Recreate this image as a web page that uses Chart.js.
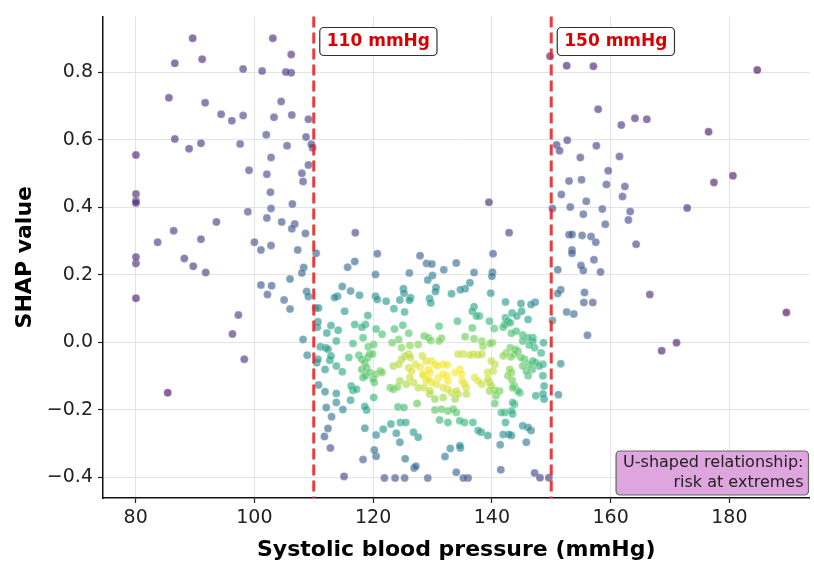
<!DOCTYPE html>
<html>
<head>
<meta charset="utf-8">
<script src="https://cdn.jsdelivr.net/npm/chart.js@4.4.1/dist/chart.umd.min.js"></script>
<style>
  html, body { margin: 0; padding: 0; background: #fff; }
  #wrap { width: 814px; height: 563px; }
</style>
</head>
<body>
<div id="wrap"><canvas id="chart" width="814" height="563"></canvas></div>
<script>
// Systolic blood pressure (mmHg) and SHAP value per patient
const sbp = [
  89.6, 103.1, 106.2, 86.6, 91.2, 98.1, 101.3, 105.3, 106.2, 85.6, 91.7, 94.4, 96.2, 98.1, 104.5, 103.3, 106.3, 109.1,
  86.6, 89.0, 91.0, 97.6, 102.0, 105.5, 108.7, 109.6, 109.8, 80.05, 102.8, 109.1, 99.1, 102.1, 108.0, 108.2, 102.7,
  80.05, 80.05, 80.05, 106.4, 102.8, 98.9, 102.1, 93.6, 104.6, 106.8, 106.3, 108.6, 86.4, 83.7, 91.0, 100.0, 101.1,
  102.8, 107.3, 80.05, 80.05, 88.2, 89.7, 91.8, 108.3, 108.0, 106.0, 101.1, 102.9, 102.2, 105.0, 106.0, 108.8, 109.1,
  80.05, 97.3, 96.3, 98.3, 108.2, 108.9, 85.4,
  117.0, 110.4, 120.7, 127.9, 129.0, 129.9, 115.7, 116.9, 120.4, 126.1, 129.2, 130.0, 114.8, 116.2, 117.7, 113.5,
  114.0, 120.4, 120.7, 122.2, 125.1, 125.2, 124.5, 126.1, 126.3, 123.5, 125.3, 129.5, 129.7, 110.3, 110.8, 115.2,
  119.1, 110.7, 110.6, 112.9, 116.9, 118.1, 118.7, 120.5, 123.6, 125.0, 112.2, 114.1, 121.5, 126.0, 118.3, 113.8,
  116.6, 111.1, 112.0, 112.4, 120.1, 119.2, 123.2, 124.3, 124.8, 126.2, 127.6, 128.6, 129.3, 129.7, 112.9, 112.7,
  110.7, 110.5, 111.9, 113.8, 114.8, 115.9, 117.6, 118.1, 118.6, 119.1, 119.4, 119.9, 118.1, 118.9, 119.4, 120.4,
  121.2, 121.5, 118.3, 118.7, 120.0, 120.2, 116.3, 116.6, 117.2, 116.2, 110.8, 111.9, 113.8, 113.8, 114.9, 112.1,
  113.0, 118.6, 118.9, 120.1, 123.4, 124.3, 124.8, 125.4, 126.0, 126.5, 127.1, 127.9, 128.3, 128.9, 129.3, 129.6,
  128.5, 128.9, 128.6, 129.5, 126.0, 126.3, 122.9, 123.4, 124.1, 124.5, 125.6, 126.2, 126.8, 127.4, 127.6, 124.2,
  125.2, 124.6, 125.5, 123.0, 121.7, 120.5, 123.9, 124.5, 126.8, 127.6, 118.6, 120.2, 120.5, 118.3, 125.4, 127.2,
  126.9, 112.4, 111.8, 112.8, 115.1, 121.9, 123.7, 125.3, 129.2,
  142.9, 140.2, 131.9, 134.0, 137.0, 140.1, 140.0, 130.6, 130.5, 133.2, 134.7, 135.5, 136.3, 139.8, 142.3, 144.9,
  146.6, 147.3, 137.0, 136.7, 137.4, 137.9, 134.2, 139.6, 140.4, 131.1, 136.7, 142.3, 142.7, 143.1, 143.4, 144.2,
  145.0, 146.1, 141.9, 142.2, 143.3, 144.1, 145.2, 146.1, 146.9, 146.9, 148.7, 131.5, 135.5, 137.0, 138.3, 139.7,
  140.1, 138.5, 143.1, 144.0, 145.2, 146.3, 147.2, 131.1, 129.8, 130.4, 130.9, 131.8, 132.5, 128.4, 129.3, 129.9,
  130.7, 131.0, 131.8, 132.4, 132.6, 131.8, 129.6, 130.4, 131.8, 132.6, 133.2, 134.0, 134.3, 133.8, 135.4, 135.0,
  135.7, 135.7, 133.8, 134.9, 134.6, 134.3, 135.2, 136.3, 136.9, 137.7, 138.3, 137.1, 137.7, 138.3, 139.3, 139.6,
  139.9, 140.5, 139.6, 139.3, 140.2, 140.5, 139.9, 141.3, 140.7, 140.5, 141.9, 142.4, 143.2, 143.8, 144.4, 144.9,
  145.5, 143.0, 143.3, 142.7, 143.4, 143.8, 144.4, 144.7, 143.5, 145.2, 145.8, 146.3, 146.8, 146.1, 146.9, 147.4,
  148.3, 148.0, 148.6, 148.6, 148.8, 148.6, 147.4, 148.8, 143.5, 143.8, 143.3, 143.5, 142.2, 141.6, 130.4, 131.5,
  132.6, 133.5, 134.0, 131.2, 132.6, 134.6, 135.4, 136.8, 137.7, 138.2, 139.3, 142.3, 141.9, 142.9, 143.3, 141.4,
  145.2, 146.1, 146.6, 145.8, 132.1, 133.0, 134.6, 134.7, 134.0, 135.2, 136.0, 141.5, 147.2, 148.1, 149.6, 139.5,
  149.8, 152.6, 157.1, 184.7, 157.9, 161.8, 164.1, 166.1, 176.5, 150.9, 151.4, 152.7, 157.6, 154.9, 161.5, 159.6,
  153.0, 155.1, 159.3, 162.4, 151.7, 155.9, 162.0, 177.4, 180.6, 150.2, 153.2, 158.6, 163.3, 172.9, 155.4, 159.1,
  163.0, 153.0, 153.5, 155.2, 156.7, 157.5, 164.3, 153.5, 153.5, 151.1, 155.0, 155.4, 157.2, 158.3, 151.1, 151.6,
  155.6, 155.5, 157.0, 166.6, 189.6, 152.6, 153.8, 150.2, 156.1, 171.1, 168.6, 151.6, 151.2
];
const shap = [
  0.90, 0.90, 0.852, 0.826, 0.838, 0.809, 0.803, 0.80, 0.798, 0.724, 0.709, 0.675, 0.656, 0.671, 0.713, 0.666, 0.673, 0.66,
  0.602, 0.573, 0.589, 0.587, 0.614, 0.582, 0.608, 0.586, 0.576, 0.554, 0.547, 0.525, 0.509, 0.497, 0.50, 0.476, 0.444,
  0.439, 0.418, 0.412, 0.409, 0.396, 0.386, 0.368, 0.356, 0.356, 0.35, 0.336, 0.322, 0.330, 0.296, 0.305, 0.296, 0.273,
  0.286, 0.273, 0.252, 0.233, 0.248, 0.225, 0.206, 0.221, 0.205, 0.187, 0.169, 0.167, 0.141, 0.125, 0.098, 0.15, 0.135,
  0.13, 0.08, 0.024, -0.051, 0.008, -0.039, -0.150,
  0.324, 0.263, 0.262, 0.256, 0.233, 0.231, 0.222, 0.239, 0.20, 0.205, 0.184, 0.197, 0.165, 0.151, 0.139, 0.132,
  0.136, 0.136, 0.126, 0.121, 0.158, 0.145, 0.125, 0.124, 0.131, 0.099, 0.089, 0.129, 0.116, 0.101, 0.101, 0.091,
  0.079, 0.06, 0.044, 0.049, 0.052, 0.044, 0.052, 0.039, 0.039, 0.050, 0.027, 0.035, 0.023, 0.026, 0.013, 0.003,
  -0.004, -0.014, -0.017, -0.021, -0.007, -0.014, -0.002, 0.008, -0.017, -0.01, -0.007, 0.018, 0.013, 0.005, -0.041, -0.054,
  -0.051, -0.061, -0.081, -0.071, -0.088, -0.046, -0.039, -0.051, -0.061, -0.046, -0.036, -0.035, -0.081, -0.076, -0.09, -0.095,
  -0.086, -0.09, -0.105, -0.10, -0.11, -0.12, -0.13, -0.143, -0.14, -0.172, -0.127, -0.147, -0.152, -0.179, -0.20, -0.194,
  -0.221, -0.191, -0.201, -0.164, -0.071, -0.066, -0.051, -0.041, -0.076, -0.086, -0.066, -0.074, -0.041, -0.056, -0.081, -0.09,
  -0.10, -0.115, -0.135, -0.154, -0.036, -0.046, -0.135, -0.14, -0.133, -0.115, -0.125, -0.105, -0.12, -0.182, -0.135, -0.192,
  -0.194, -0.238, -0.238, -0.243, -0.258, -0.275, -0.27, -0.297, -0.267, -0.282, -0.255, -0.32, -0.338, -0.348, -0.346, -0.368,
  -0.373, -0.256, -0.28, -0.314, -0.398, -0.403, -0.403, -0.403, -0.403,
  0.324, 0.262, 0.214, 0.234, 0.206, 0.207, 0.195, 0.162, 0.15, 0.143, 0.155, 0.158, 0.176, 0.145, 0.119, 0.114,
  0.111, 0.118, 0.105, 0.091, 0.077, 0.077, 0.062, 0.062, 0.04, 0.047, 0.042, 0.072, 0.062, 0.057, 0.086, 0.077,
  0.091, 0.067, 0.044, 0.052, 0.026, 0.032, 0.021, 0.013, 0.013, 0.003, -0.002, 0.011, 0.016, 0.01, 0.003, -0.004,
  -0.002, -0.012, -0.017, -0.022, 0.003, -0.009, -0.017, 0.003, -0.056, -0.066, -0.071, -0.066, -0.068, -0.095, -0.11, -0.12,
  -0.125, -0.105, -0.095, -0.10, -0.115, -0.135, -0.145, -0.169, -0.164, -0.14, -0.15, -0.145, -0.154, -0.169, -0.125, -0.115,
  -0.135, -0.154, -0.09, -0.095, -0.081, -0.036, -0.035, -0.038, -0.036, -0.038, -0.035, -0.105, -0.115, -0.125, -0.11, -0.12,
  -0.13, -0.143, -0.145, -0.09, -0.086, -0.066, -0.056, -0.145, -0.159, -0.182, -0.041, -0.032, -0.044, -0.036, -0.027, -0.046,
  -0.051, -0.081, -0.09, -0.10, -0.113, -0.13, -0.145, -0.15, -0.135, -0.071, -0.086, -0.066, -0.081, -0.10, -0.056, -0.061,
  -0.032, -0.071, -0.066, -0.10, -0.13, -0.154, -0.159, -0.169, -0.179, -0.184, -0.204, -0.213, -0.209, -0.209, -0.201, -0.199,
  -0.204, -0.199, -0.209, -0.231, -0.238, -0.233, -0.238, -0.238, -0.262, -0.267, -0.277, -0.238, -0.274, -0.274, -0.277, -0.304,
  -0.248, -0.253, -0.262, -0.297, -0.339, -0.315, -0.307, -0.314, -0.386, -0.403, -0.403, -0.378, -0.388, -0.402, -0.402, 0.414,
  0.847, 0.819, 0.817, 0.806, 0.69, 0.643, 0.663, 0.66, 0.623, 0.584, 0.567, 0.598, 0.582, 0.547, 0.55, 0.508,
  0.477, 0.481, 0.467, 0.461, 0.437, 0.417, 0.431, 0.473, 0.493, 0.396, 0.40, 0.394, 0.387, 0.397, 0.379, 0.349,
  0.362, 0.318, 0.319, 0.316, 0.313, 0.296, 0.29, 0.273, 0.263, 0.214, 0.227, 0.212, 0.244, 0.208, 0.144, 0.155,
  0.147, 0.117, 0.117, 0.141, 0.088, 0.089, 0.083, 0.064, 0.02, -0.002, -0.026, -0.064, -0.156
];

const xTicks = [80, 100, 120, 140, 160, 180];
const yTicks = [-0.4, -0.2, 0.0, 0.2, 0.4, 0.6, 0.8];
const thresholds = [110, 150];
const thresholdLabels = ["110 mmHg", "150 mmHg"];
const noteLines = ["U-shaped relationship:", "risk at extremes"];

const viridis = ["#440154", "#482878", "#3e4989", "#31688e", "#26828e", "#1f9e89", "#35b779", "#6ece58", "#fde725"];
const FONT = "'DejaVu Sans', 'Liberation Sans', sans-serif";

// gaussian kde (scott's rule) so dense points get the warm colours
function densities(xs, ys) {
  const n = xs.length
  const mx = xs.reduce((a, b) => a + b, 0) / n
  const my = ys.reduce((a, b) => a + b, 0) / n
  let sxx = 0, syy = 0, sxy = 0
  for (let i = 0; i < n; i++) {
    sxx += (xs[i] - mx) ** 2; syy += (ys[i] - my) ** 2; sxy += (xs[i] - mx) * (ys[i] - my)
  }
  const f2 = Math.pow(n, -1 / 3)
  const a = sxx / (n - 1) * f2, d = syy / (n - 1) * f2, b = sxy / (n - 1) * f2
  const det = a * d - b * b
  const ia = d / det, id = a / det, ib = -b / det
  return xs.map((x, i) => {
    let s = 0
    for (let j = 0; j < n; j++) {
      const dx = x - xs[j], dy = ys[i] - ys[j]
      s += Math.exp(-0.5 * (ia * dx * dx + 2 * ib * dx * dy + id * dy * dy))
    }
    return s
  })
}

function hex(h) { return [1, 3, 5].map(k => parseInt(h.slice(k, k + 2), 16)) }

function viridisAt(t, alpha) {
  const p = Math.min(Math.max(t, 0), 1) * (viridis.length - 1)
  const i = Math.min(Math.floor(p), viridis.length - 2)
  const c0 = hex(viridis[i]), c1 = hex(viridis[i + 1]), f = p - i
  const c = c0.map((v, k) => Math.round(v + (c1[k] - v) * f))
  return `rgba(${c[0]}, ${c[1]}, ${c[2]}, ${alpha})`
}

const dens = densities(sbp, shap)
const dMin = Math.min(...dens), dMax = Math.max(...dens)
const points = sbp.map((x, i) => ({ x, y: shap[i], t: Math.pow((dens[i] - dMin) / (dMax - dMin), 0.75) }))
  .sort((p, q) => p.t - q.t)

function roundRect(ctx, x, y, w, h, r) {
  ctx.beginPath()
  ctx.moveTo(x + r, y)
  ctx.arcTo(x + w, y, x + w, y + h, r)
  ctx.arcTo(x + w, y + h, x, y + h, r)
  ctx.arcTo(x, y + h, x, y, r)
  ctx.arcTo(x, y, x + w, y, r)
  ctx.closePath()
}

const annotations = {
  id: "annotations",
  afterDatasetsDraw(chart) {
    const { ctx, chartArea, scales: { x } } = chart
    ctx.save()

    ctx.strokeStyle = "rgba(229, 40, 40, 0.9)"
    ctx.lineWidth = 3
    ctx.setLineDash([11, 5])
    thresholds.forEach((v) => {
      const px = x.getPixelForValue(v)
      ctx.beginPath()
      ctx.moveTo(px, chartArea.top)
      ctx.lineTo(px, chartArea.bottom)
      ctx.stroke()
    })
    ctx.setLineDash([])

    ctx.font = `bold 17px ${FONT}`
    ctx.textBaseline = "middle"
    thresholdLabels.forEach((text, i) => {
      const left = x.getPixelForValue(thresholds[i]) + 6
      const w = ctx.measureText(text).width + 14
      roundRect(ctx, left, 27.5, w, 28, 4)
      ctx.fillStyle = "#fff"
      ctx.fill()
      ctx.strokeStyle = "#333"
      ctx.lineWidth = 1.2
      ctx.stroke()
      ctx.fillStyle = "#d80000"
      ctx.textAlign = "left"
      ctx.fillText(text, left + 7, 42)
    })

    ctx.font = `16px ${FONT}`
    const tw = Math.max(...noteLines.map((l) => ctx.measureText(l).width))
    const right = chartArea.right - 1, bottom = chartArea.bottom - 3
    roundRect(ctx, right - tw - 12, bottom - 44, tw + 12, 44, 4)
    ctx.fillStyle = "rgba(221, 160, 221, 0.95)"
    ctx.fill()
    ctx.strokeStyle = "#666"
    ctx.lineWidth = 1.2
    ctx.stroke()
    ctx.fillStyle = "#222"
    ctx.textAlign = "right"
    noteLines.forEach((l, i) => ctx.fillText(l, right - 5, bottom - 32 + i * 20))

    ctx.restore()
  }
}

new Chart(document.getElementById("chart"), {
  type: "scatter",
  data: {
    datasets: [{
      data: points,
      pointRadius: 4,
      pointHoverRadius: 4,
      pointBackgroundColor: (c) => viridisAt(c.raw ? c.raw.t : 0, 0.62),
      pointBorderColor: "rgba(255, 255, 255, 0.5)",
      pointBorderWidth: 0.5
    }]
  },
  options: {
    responsive: false,
    animation: false,
    devicePixelRatio: 1,
    layout: { padding: { top: 3, right: 2, left: 0, bottom: 0 } },
    plugins: { legend: { display: false }, tooltip: { enabled: false } },
    scales: {
      x: {
        type: "linear",
        min: 74.5,
        max: 193.5,
        afterBuildTicks: (scale) => { scale.ticks = xTicks.map((value) => ({ value })) },
        afterFit: (scale) => { scale.height = 65 },
        grid: { color: "#e4e4e4", lineWidth: 1, drawTicks: true, tickLength: 5, tickColor: "#222", tickWidth: 1.2 },
        border: { color: "#111", width: 1.5 },
        ticks: { color: "#222", padding: 4, font: { family: FONT, size: 19 }, callback: (v) => String(v) },
        title: {
          display: true,
          text: "Systolic blood pressure (mmHg)",
          color: "#000",
          font: { family: FONT, size: 22, weight: "bold" },
          padding: { top: 0, bottom: 0 }
        }
      },
      y: {
        type: "linear",
        min: -0.462,
        max: 0.965,
        afterBuildTicks: (scale) => { scale.ticks = yTicks.map((value) => ({ value })) },
        afterFit: (scale) => { scale.width = 103 },
        grid: { color: "#e4e4e4", lineWidth: 1, drawTicks: true, tickLength: 5, tickColor: "#222", tickWidth: 1.2 },
        border: { color: "#111", width: 1.5 },
        ticks: {
          color: "#222", padding: 5, font: { family: FONT, size: 19 },
          callback: (v) => (v < 0 ? "\u2212" : "") + Math.abs(v).toFixed(1)
        },
        title: {
          display: true,
          text: "SHAP value",
          color: "#000",
          font: { family: FONT, size: 22, weight: "bold" },
          padding: { top: 12, bottom: 0 }
        }
      }
    }
  },
  plugins: [annotations]
})
</script>
</body>
</html>
